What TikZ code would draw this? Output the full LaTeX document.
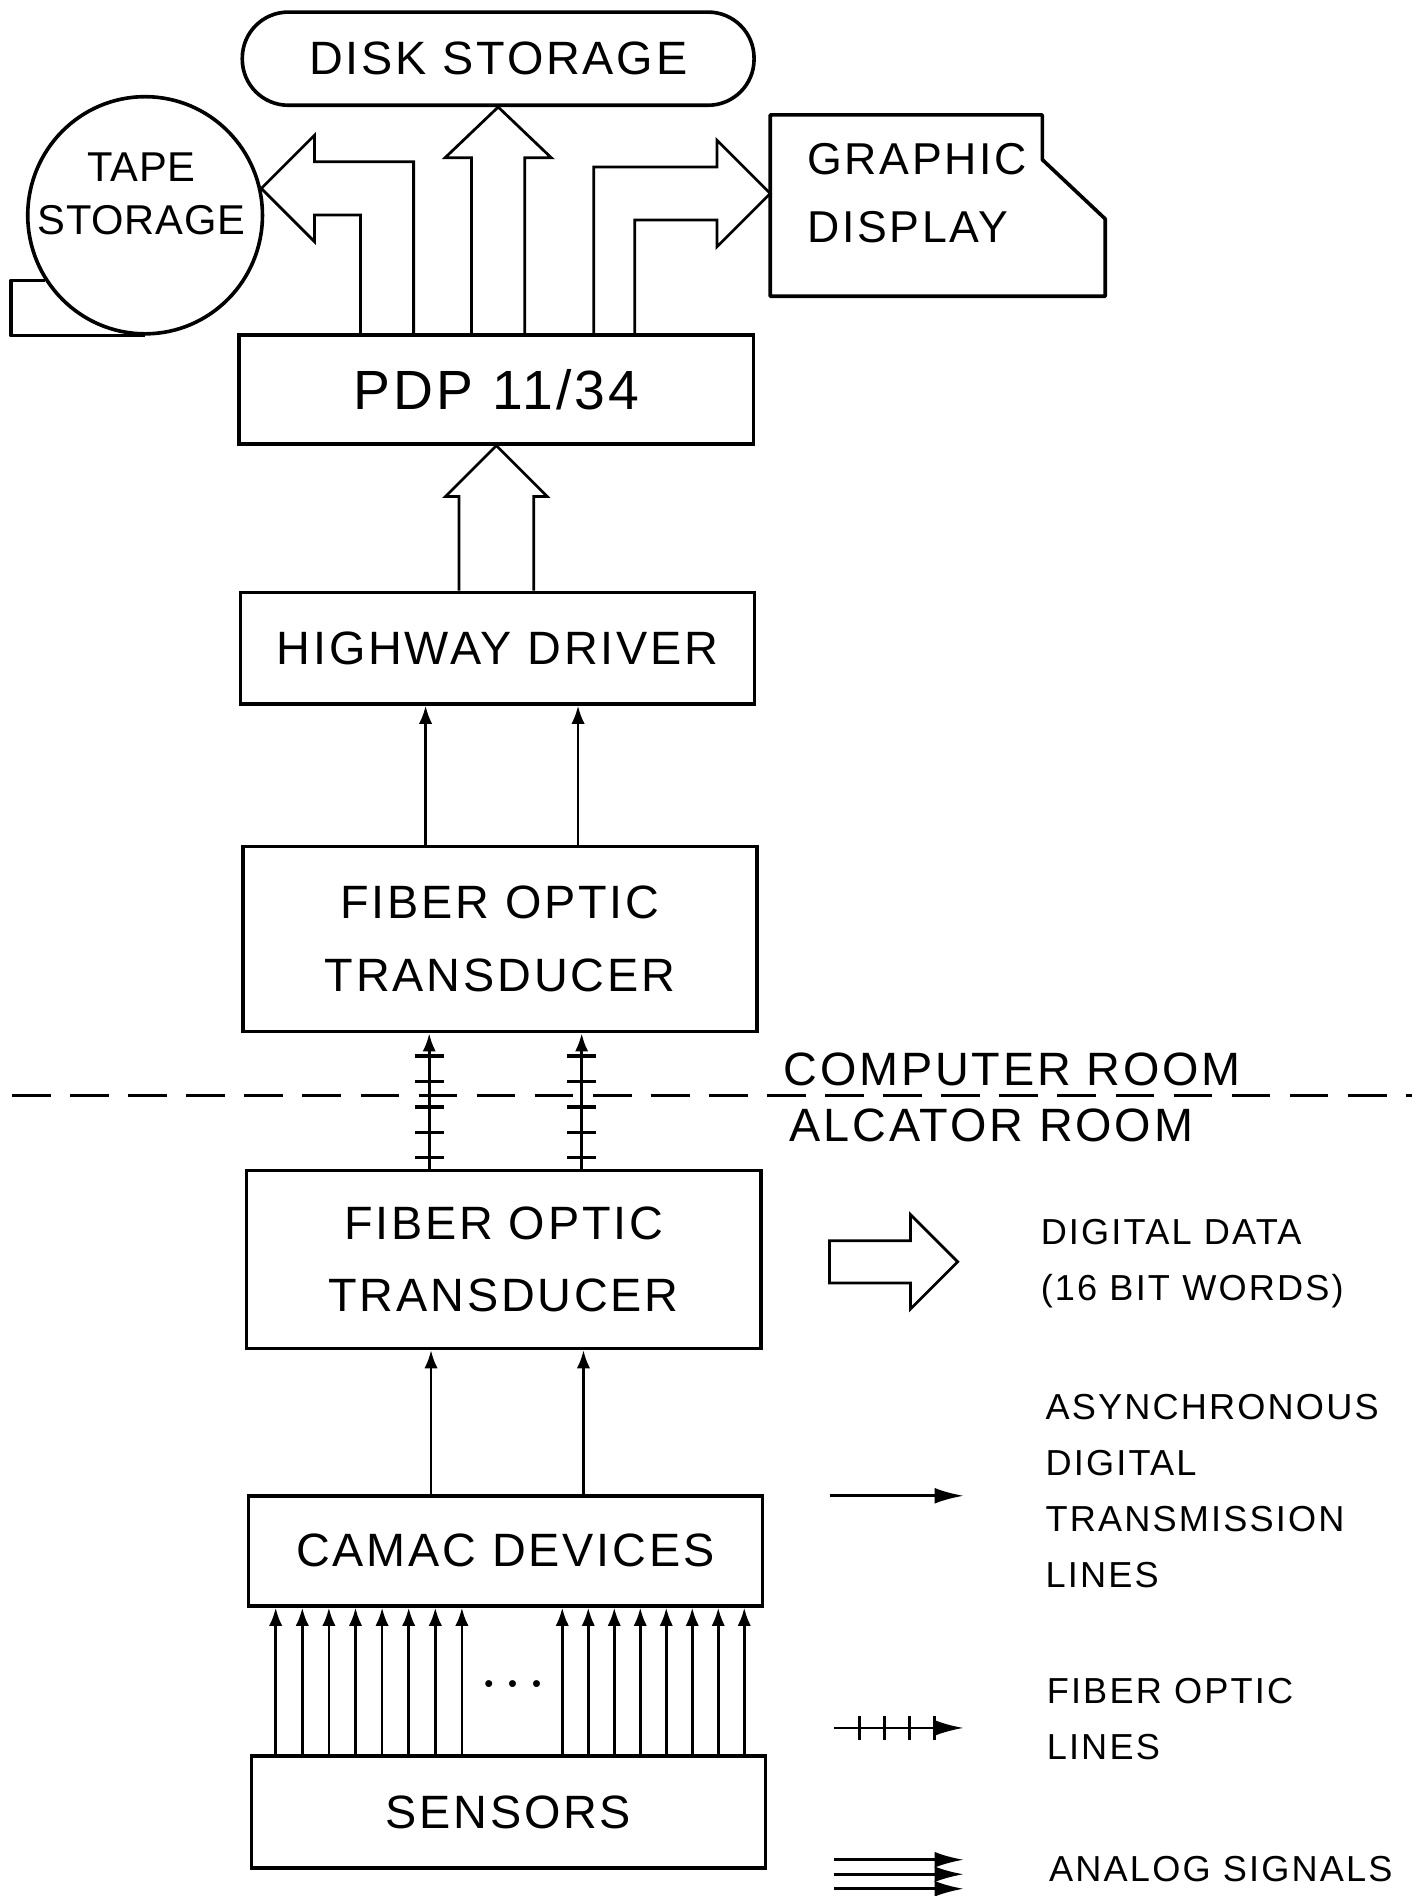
\documentclass[tikz,border=0pt]{standalone}
\usepackage{fontspec}
\newfontfamily\lettering[LetterSpace=6]{Liberation Sans}
\newfontfamily\tightlettering[LetterSpace=2]{Liberation Sans}
\usetikzlibrary{arrows.meta,calc,decorations.markings,shapes.geometric}

\begin{document}
\begin{tikzpicture}[
	x=0.01cm, y=-0.01cm,
	block/.style={
		rectangle,
		draw=black,
		line width=0.85pt,
		align=center,
		inner sep=0pt,
		minimum width=4.25cm,
		font=\lettering\fontsize{11}{17}\selectfont
	},
	disk/.style={
		block,
		rounded corners=0.38cm,
		minimum width=4.23cm,
		minimum height=0.77cm
	},
	tapebody/.style={
		ellipse,
		draw=black,
		line width=0.85pt,
		minimum width=1.94cm,
		minimum height=1.96cm,
		inner sep=0pt
	},
	shapetext/.style={
		align=center,
		inner sep=0pt,
		font=\tightlettering\fontsize{9.8}{12.5}\selectfont
	},
	outline/.style={draw=black, line width=0.85pt, line join=round},
	hollow/.style={draw=black, line width=0.65pt, line join=miter},
	sig/.style={-{Latex[length=1.5mm,width=1.1mm]}, line width=0.65pt},
	keysig/.style={-{Latex[length=2.4mm,width=1.3mm]}, line width=0.65pt},
	fiber/.style={
		sig,
		postaction={decorate},
		decoration={markings,
			mark=between positions 0.09cm and 0.95cm step 0.21cm with
				{\draw[-, line width=0.8pt] (0pt,-0.12cm) -- (0pt,0.12cm);}}
	},
	fiberkey/.style={
		keysig,
		postaction={decorate},
		decoration={markings,
			mark=between positions 0.21cm and 0.85cm step 0.207cm with
				{\draw[-, line width=0.65pt] (0pt,-0.1cm) -- (0pt,0.1cm);}}
	},
	divider/.style={line width=0.9pt, dash pattern=on 0.32cm off 0.16cm},
	roomlabel/.style={inner sep=0pt, font=\lettering\fontsize{11}{13}\selectfont},
	legendtext/.style={anchor=west, align=left, inner sep=0pt,
		font=\lettering\fontsize{8.5}{13.2}\selectfont}
]
\useasboundingbox (0,0) rectangle (1177,1568);

% Storage and display
\node[disk] (disk) at (412,48.5) {DISK STORAGE};
\node[tapebody] (tape) at (120,178) {};
\node[shapetext] (tapetxt) at (117,160) {TAPE\\STORAGE};
\draw[outline] (tape.213) -- ++(-28,0) |- (tape.south);
\coordinate (gin) at (637,160);
\draw[outline] (gin) ++(0,85) -- ++(0,-150) -- ++(225,0) -- ++(0,37)
	-- ++(52,49) -- ++(0,64) -- cycle;
\node[shapetext, anchor=west, align=left,
	font=\lettering\fontsize{10.5}{16}\selectfont] (gfxtxt) at (667,160) {GRAPHIC\\DISPLAY};

% Main chain
\node[block, minimum height=0.9cm, font=\lettering\fontsize{13}{15}\selectfont] (pdp) at (410.5,322) {PDP 11/34};
\node[block, minimum height=0.92cm] (hwy) at (411.5,536) {HIGHWAY DRIVER};
\node[block, minimum height=1.53cm] (fot) at (413.5,776.5) {FIBER OPTIC\\TRANSDUCER};
\node[block, minimum height=1.47cm] (fob) at (416.5,1041.5) {FIBER OPTIC\\TRANSDUCER};
\node[block, minimum height=0.91cm] (camac) at (418,1282.5) {CAMAC DEVICES};
\node[block, minimum height=0.93cm] (sens) at (420.5,1498.5) {SENSORS};

% Block arrows out of the PDP
\coordinate (ltip) at (tape.13);
\coordinate (lin) at ($(ltip)+(82,22)$);
\coordinate (lout) at ($(ltip)+(126,-22)$);
\draw[hollow] (lin |- pdp.north) -- (lin) -- ($(ltip)+(44,22)$) -- ($(ltip)+(44,44)$)
	-- (ltip) -- ($(ltip)+(44,-44)$) -- ($(ltip)+(44,-22)$) -- (lout) -- (lout |- pdp.north);

\coordinate (dtip) at (disk.south);
\draw[hollow] ($(pdp.north -| dtip)+(-22,0)$) -- ($(dtip)+(-22,42)$) -- ($(dtip)+(-44,42)$)
	-- (dtip) -- ($(dtip)+(44,42)$) -- ($(dtip)+(22,42)$) -- ($(pdp.north -| dtip)+(22,0)$);

\coordinate (rout) at ($(gin)+(-146,-22)$);
\coordinate (rin) at ($(gin)+(-112,22)$);
\draw[hollow] (rout |- pdp.north) -- (rout) -- ($(gin)+(-44,-22)$) -- ($(gin)+(-44,-44)$)
	-- (gin) -- ($(gin)+(-44,44)$) -- ($(gin)+(-44,22)$) -- (rin) -- (rin |- pdp.north);

% Highway driver to PDP
\coordinate (ptip) at (pdp.south);
\draw[hollow] ($(hwy.north -| ptip)+(-31,0)$) -- ($(ptip)+(-31,42)$) -- ($(ptip)+(-42,42)$)
	-- (ptip) -- ($(ptip)+(42,42)$) -- ($(ptip)+(31,42)$) -- ($(hwy.north -| ptip)+(31,0)$);

% Line pairs between the transducers
\foreach \dx in {-0.615,0.645} {
	\coordinate (up) at ([xshift=\dx cm]fot.north);
	\draw[sig] (up) -- (up |- hwy.south);
	\coordinate (fo) at ([xshift=\dx cm]fob.north);
	\draw[fiber] (fo) -- (fo |- fot.south);
	\coordinate (cm) at ([xshift=\dx cm]camac.north);
	\draw[sig] (cm) -- (cm |- fob.south);
}

% Room boundary
\coordinate (divl) at (10,906);
\coordinate (divr) at (1168,906);
\draw[divider] (divl) -- (divr);
\node[roomlabel] (comp) at (837,884) {COMPUTER ROOM};
\node[roomlabel] (alc) at (820,931) {ALCATOR ROOM};

% Sensor lines
\foreach \i in {0,...,7} {
	\coordinate (al) at ($(sens.north)+(-192.5+22*\i,0)$);
	\draw[sig] (al) -- (al |- camac.south);
	\coordinate (ar) at ($(sens.north)+(44.5+21.5*\i,0)$);
	\draw[sig] (ar) -- (ar |- camac.south);
}
\node[inner sep=0pt, font=\fontsize{6}{6}\selectfont] (dots) at (424,1395)
	{\lettering\textbullet\hspace{3.5pt}\textbullet\hspace{3.5pt}\textbullet};

% Key
\coordinate (k1a) at (686,1043.5);
\draw[hollow] (k1a) ++(0,-17.5) -- ++(67,0) -- ++(0,-21.5) -- ++(39,39)
	-- ++(-39,39) -- ++(0,-21.5) -- ++(-67,0) -- cycle;
\node[legendtext] (key1) at (860,1045) {DIGITAL DATA\\(16 BIT WORDS)};

\coordinate (k2a) at (686,1237);
\coordinate (k2b) at (797,1237);
\draw[keysig] (k2a) -- (k2b);
\node[legendtext] (key2) at (864,1233) {ASYNCHRONOUS\\DIGITAL\\TRANSMISSION\\LINES};

\coordinate (k3a) at (690,1429);
\coordinate (k3b) at (797,1429);
\draw[fiberkey] (k3a) -- (k3b);
\node[legendtext] (key3) at (865,1422) {FIBER OPTIC\\LINES};

\foreach \dy in {-12,0,12} {
	\coordinate (k4a) at (690,1550+\dy);
	\coordinate (k4b) at (797,1550+\dy);
	\draw[keysig] (k4a) -- (k4b);
}
\node[legendtext] (key4) at (867,1546) {ANALOG SIGNALS};

\end{tikzpicture}
\end{document}
